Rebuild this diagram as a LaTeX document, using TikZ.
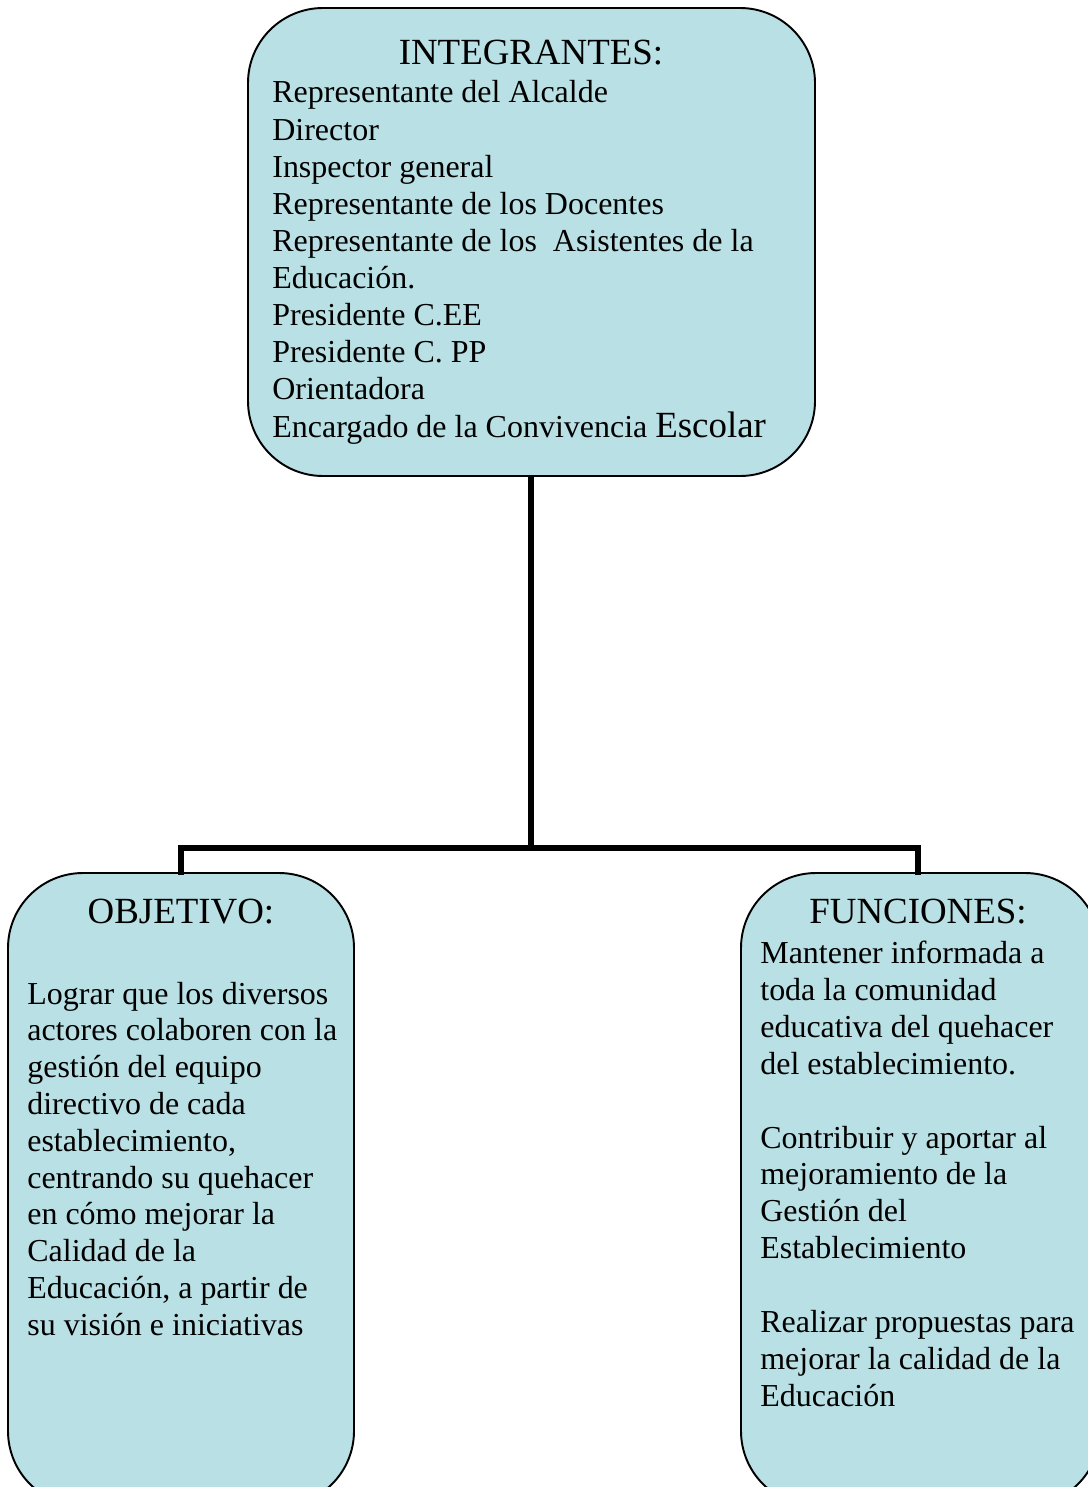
\documentclass[tikz,border=0pt]{standalone}
\usepackage{fontspec}
\setmainfont{Liberation Serif}
\definecolor{boxfill}{RGB}{185,224,228}
\tikzset{
  panel/.style={draw=black, line width=1.1pt, fill=boxfill, rounded corners=42.7pt},
  link/.style={draw=black, line width=3.4pt},
  body/.style={inner sep=0pt, anchor=base west, font=\fontsize{18.2}{21}\selectfont},
  heading/.style={inner sep=0pt, anchor=base, font=\fontsize{21}{24}\selectfont}
}
\begin{document}
\begin{tikzpicture}[x=0.02cm, y=-0.02cm]
\useasboundingbox (0,0) rectangle (1088,1487);
\clip (0,0) rectangle (1088,1487);
% boxes
\path[panel] (248,8) rectangle (815,476);
\node[inner sep=0pt, minimum size=0pt] (top) at (531,476) {};
\path[panel] (8,873) rectangle (354,1506);
\node[inner sep=0pt] (left) at (181,873) {};
\path[panel] (741,873) rectangle (1100,1506);
\node[inner sep=0pt] (right) at (918,873) {};
% connectors
\coordinate (hub) at (531,848);
\draw[link] (top) -- (hub);
\draw[link, line cap=rect] (hub) -| (left);
\draw[link, line cap=rect] (hub) -| (right);
% headings
\node[heading] (h1) at (531,65) {INTEGRANTES:};
\node[heading] (h2) at (181,923) {OBJETIVO:};
\node[heading] (h3) at (918,923) {FUNCIONES:};
% top box text
\foreach \t [count=\i from 0] in {Representante del Alcalde, Director, Inspector general, Representante de los Docentes, {Representante de los \ Asistentes de la}, Educación., Presidente C.EE, Presidente C. PP, Orientadora}
  \node[body] (t\i) at (272,103+37*\i) {\t};
\node[body] (t9) at (272,437) {Encargado de la Convivencia {\fontsize{21}{24}\selectfont Escolar}};
% left box text
\foreach \t [count=\i from 0] in {Lograr que los diversos, actores colaboren con la, gestión del equipo, directivo de cada, {establecimiento,}, centrando su quehacer, en cómo mejorar la, Calidad de la, {Educación, a partir de}, su visión e iniciativas}
  \node[body] (o\i) at (27,1004+36.8*\i) {\t};
% right box text
\foreach \t [count=\i from 0] in {Mantener informada a, toda la comunidad, educativa del quehacer, del establecimiento.}
  \node[body] (fa\i) at (760,963+37*\i) {\t};
\foreach \t [count=\i from 0] in {Contribuir y aportar al, mejoramiento de la, Gestión del, Establecimiento}
  \node[body] (fb\i) at (760,1148+36.8*\i) {\t};
\foreach \t [count=\i from 0] in {Realizar propuestas para, mejorar la calidad de la, Educación}
  \node[body] (fc\i) at (760,1332+37*\i) {\t};
\end{tikzpicture}
\end{document}
